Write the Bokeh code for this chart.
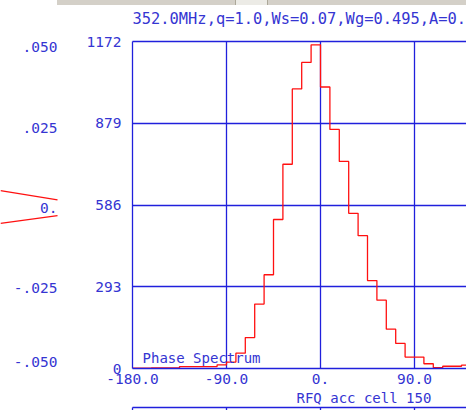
from bokeh.plotting import figure
from bokeh.models import Range1d, LinearAxis, FixedTicker, Title, Div, Label, LabelSet, ColumnDataSource
from bokeh.layouts import row, column
from bokeh.core.properties import value
from bokeh.embed import file_html
from bokeh.resources import INLINE

# ---- data: phase spectrum histogram (9-degree bins) ----
bin_left = [-180, -171, -162, -153, -144, -135, -126, -117, -108, -99,
            -90, -81, -72, -63, -54, -45, -36, -27, -18, -9,
            0, 9, 18, 27, 36, 45, 54, 63, 72, 81,
            90, 99, 108, 117, 126, 135]
counts = [1, 1, 2, 2, 2, 7, 7, 7, 7, 13,
          23, 55, 111, 231, 336, 534, 732, 1002, 1097, 1160,
          1009, 857, 742, 556, 476, 315, 245, 141, 90, 41,
          41, 17, 3, 8, 8, 12]
last_edge = 144

y_ticks = [0, 293, 586, 879, 1172]
x_ticks = [-180, -90, 0, 90]
x_tick_labels = ["-180.0", "-90.0", "0.", "90.0"]
title_text = "352.0MHz,q=1.0,Ws=0.07,Wg=0.495,A=0."
xlabel_text = "RFQ acc cell 150"
panel_label = "Phase Spectrum"

# neighbouring (left) panel: envelope lines and its tick labels
env_ticks = [0.05, 0.025, 0.0, -0.025, -0.05]
env_tick_labels = [".050", ".025", "0.", "-.025", "-.050"]
env_pos = [-10.0, -0.5]
env_upper = [0.0054, 0.0025]
env_lower = [-0.0048, -0.0024]

BLUE = "#2020dc"
TXT = "#3535d2"
RED = "#ff1010"
MONO = "DejaVu Sans Mono"

# ---- top strip (window scroll bar) ----
bar = Div(width=466, height=5, margin=0,
          styles={"background": (
              "linear-gradient(to right, transparent 235px, #aca899 235px, "
              "#aca899 236px, #ecebe6 236px, #ecebe6 267px, #aca899 267px, "
              "#aca899 268px, transparent 268px), "
              "linear-gradient(to right, #ffffff 57px, #d4d0c8 57px)")})

# ---- left neighbouring panel ----
pl = figure(width=60, height=405, x_range=Range1d(-10, 0),
            y_range=Range1d(-0.05006, 0.05187),
            x_axis_type=None, y_axis_type=None, output_backend="svg",
            toolbar_location=None, min_border=0, min_border_left=0,
            min_border_right=0, min_border_top=36, min_border_bottom=42,
            outline_line_color=None)
pl.line(env_pos, env_upper, line_color=RED, line_width=1.2)
pl.line(env_pos, env_lower, line_color=RED, line_width=1.2)
label_nudge = [0, 0, 0, 0, 6]   # keep the lowest label inside the panel
env_src = ColumnDataSource(dict(x=[env_pos[-1]] * len(env_ticks), y=env_ticks,
                                text=env_tick_labels, dy=label_nudge))
pl.add_layout(LabelSet(x="x", y="y", text="text", y_offset="dy", source=env_src,
                       text_font=value(MONO), text_font_size="14.5px",
                       text_color=TXT, text_align="right",
                       text_baseline="middle"))

# ---- main panel ----
p = figure(width=406, height=405, x_range=Range1d(-180, 139.79),
           y_range=Range1d(0, 1172), output_backend="svg",
           toolbar_location=None, min_border_left=72, min_border_right=0,
           min_border_top=36, min_border_bottom=42, outline_line_color=None)

p.title.text = title_text
p.title.align = "left"
p.title.vertical_align = "bottom"
p.title.text_font = MONO
p.title.text_font_size = "15.4px"
p.title.text_font_style = "normal"
p.title.text_color = TXT
p.title.standoff = 0

for ax in (p.xaxis[0], p.yaxis[0]):
    ax.axis_line_color = BLUE
    ax.axis_line_width = 1.3
    ax.major_tick_line_color = None
    ax.minor_tick_line_color = None
    ax.major_label_text_font = MONO
    ax.major_label_text_font_size = "14.5px"
    ax.major_label_text_color = TXT
p.xaxis.ticker = FixedTicker(ticks=x_ticks)
p.xaxis.major_label_overrides = dict(zip(x_ticks, x_tick_labels))
p.xaxis.major_label_standoff = -1
p.yaxis.ticker = FixedTicker(ticks=y_ticks)
p.yaxis.major_label_standoff = 5

p.xgrid.ticker = FixedTicker(ticks=x_ticks)
p.ygrid.ticker = FixedTicker(ticks=y_ticks)
for g in (p.xgrid[0], p.ygrid[0]):
    g.grid_line_color = BLUE
    g.grid_line_width = 1.3
    g.grid_line_alpha = 1.0

top_ax = LinearAxis(ticker=FixedTicker(ticks=[-180]), axis_line_color=BLUE,
                    axis_line_width=1.3, major_tick_line_color=None,
                    major_tick_in=0, major_tick_out=14,
                    minor_tick_line_color=None, major_label_text_color=None,
                    major_label_text_font_size="0px", major_label_standoff=0)
p.add_layout(top_ax, "above")

xt = Title(text=xlabel_text, align="left", offset=164, text_font=MONO,
           text_font_size="14px", text_font_style="normal", text_color=TXT,
           standoff=3)
p.add_layout(xt, "below")

bot_ax = LinearAxis(ticker=FixedTicker(ticks=x_ticks), axis_line_color=BLUE,
                    axis_line_width=1.3, major_tick_line_color=BLUE,
                    major_tick_line_width=1.3, major_tick_in=0, major_tick_out=3,
                    minor_tick_line_color=None, major_label_text_color=None,
                    major_label_text_font_size="0px", major_label_standoff=0)
p.add_layout(bot_ax, "below")

xs = bin_left + [last_edge]
ys = counts + [counts[-1]]
p.step(xs, ys, mode="after", line_color=RED, line_width=1.3)

p.add_layout(Label(x=-170.4, y=38, text=panel_label, text_font=MONO,
                   text_font_size="14px", text_color=TXT,
                   text_baseline="alphabetic"))

layout = column(bar, row(pl, p, spacing=0), spacing=0)
open("out.html", "w").write(file_html(layout, INLINE))
